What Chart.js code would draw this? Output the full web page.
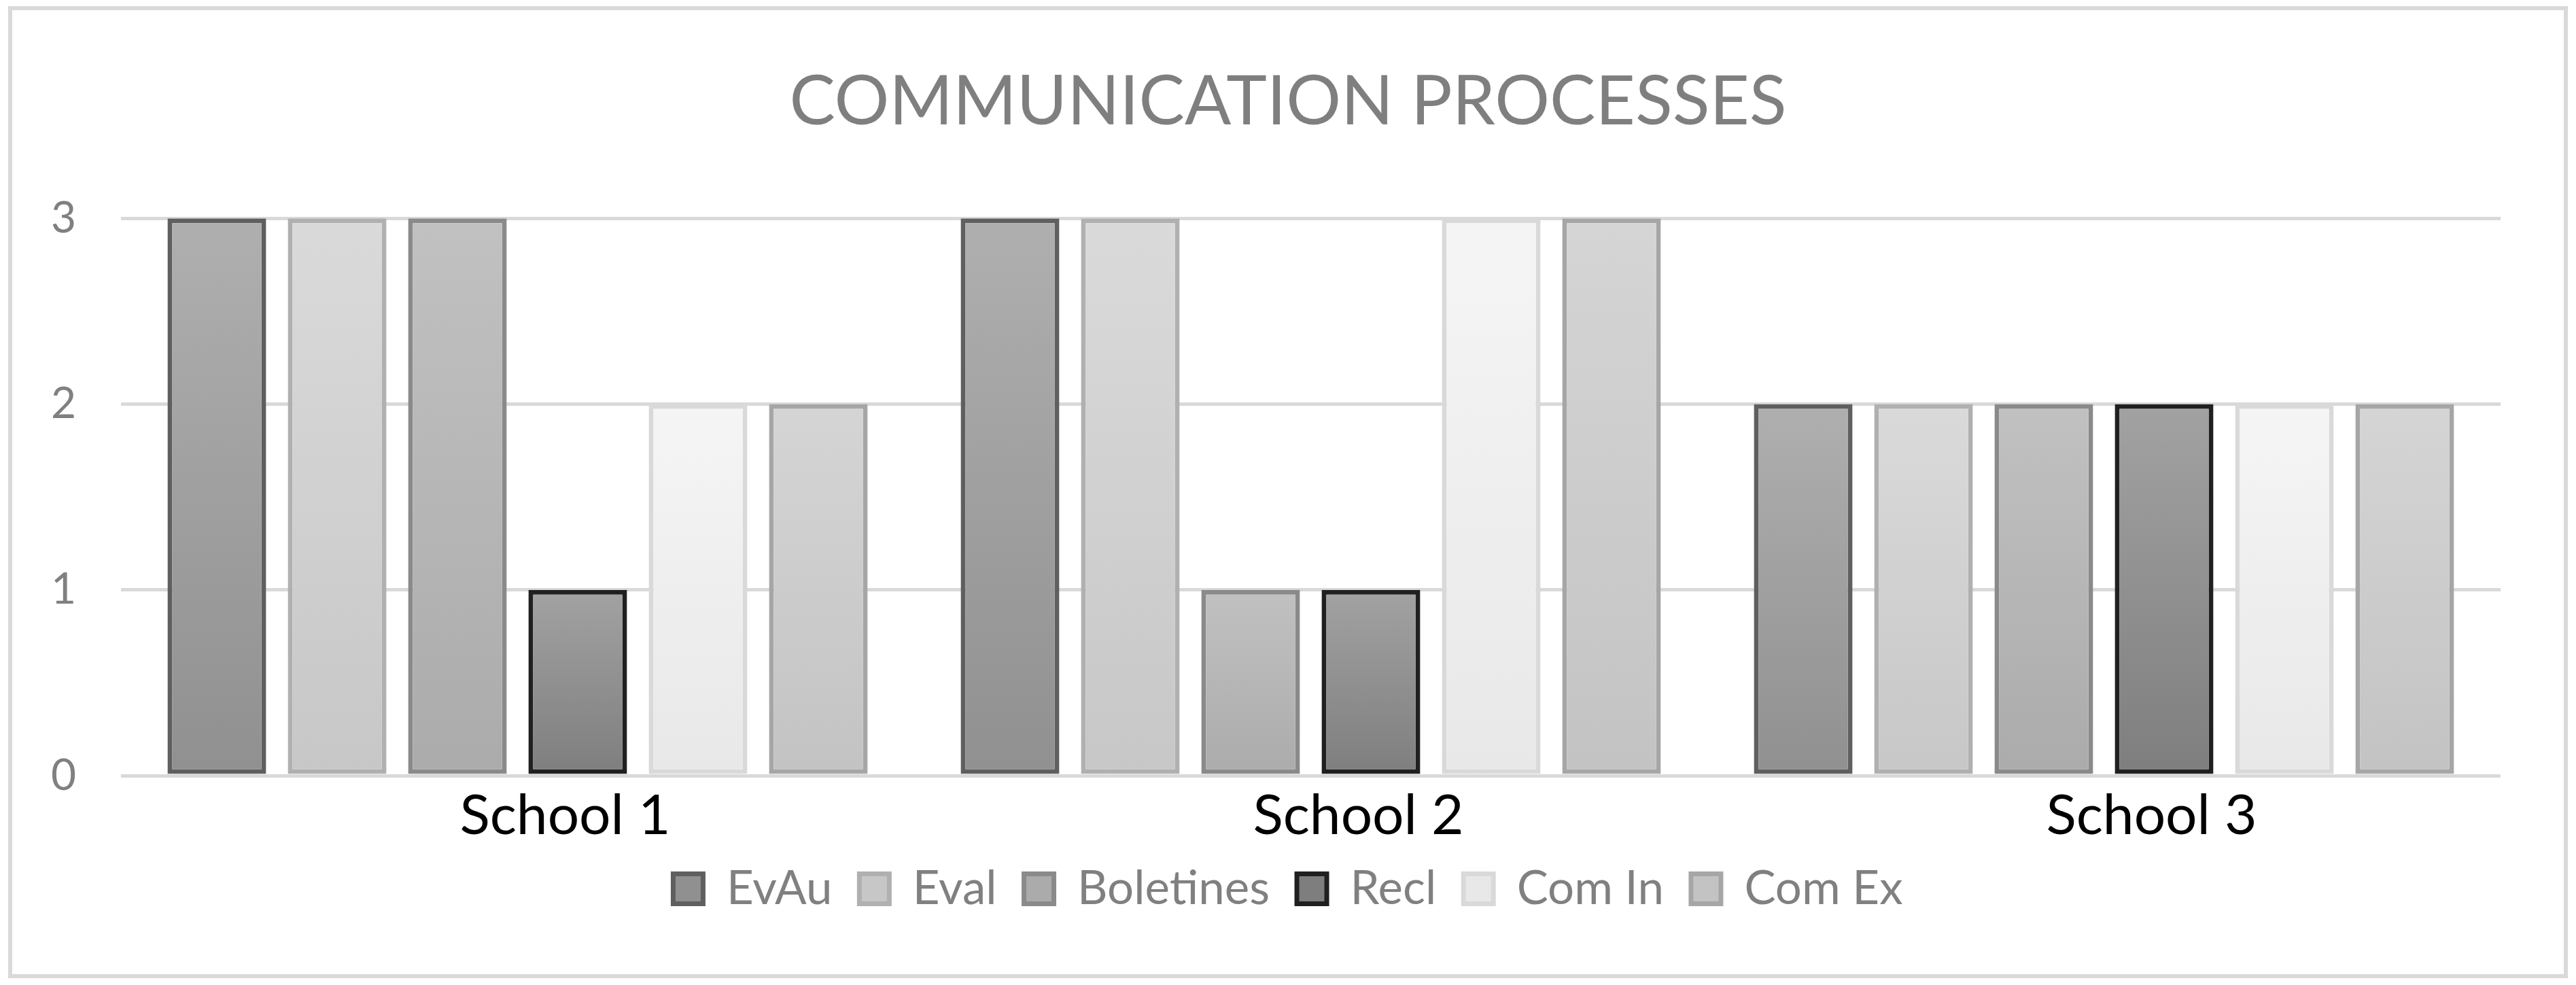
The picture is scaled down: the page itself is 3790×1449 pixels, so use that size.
<!DOCTYPE html>
<html>
<head>
<meta charset="utf-8">
<script src="https://cdn.jsdelivr.net/npm/chart.js@4"></script>
<style>
  html, body { margin: 0; padding: 0; background: #fff; }
  #wrap { width: 3790px; height: 1449px; }
</style>
</head>
<body>
<div id="wrap"><canvas id="commChart" width="3790" height="1449"></canvas></div>
<script>
/* ── Data ── */
const schools    = ['School 1', 'School 2', 'School 3'];
const evAu       = [3, 3, 2];
const evalVals   = [3, 3, 2];
const boletines  = [3, 1, 2];
const recl       = [1, 1, 2];
const comIn      = [2, 3, 2];
const comEx      = [2, 3, 2];
const yTicks     = [0, 1, 2, 3];

/* ── Per-bar vertical gradient (lighter top, darker bottom) ── */
function barFill(top, bottom) {
  return function (ctx) {
    const chart = ctx.chart;
    if (ctx.type !== 'data' || !chart.chartArea) return top;
    const y = chart.scales.y;
    const yTop = y.getPixelForValue(ctx.raw);
    const yBase = y.getPixelForValue(0);
    const g = chart.ctx.createLinearGradient(0, yTop, 0, yBase);
    g.addColorStop(0, top);
    g.addColorStop(1, bottom);
    return g;
  };
}

function series(label, data, top, bottom, border) {
  return {
    label: label,
    data: data,
    yAxisID: 'y',
    backgroundColor: barFill(top, bottom),
    borderColor: border,
    borderWidth: 7,
    borderSkipped: false,
    categoryPercentage: 0.91,
    barPercentage: 0.82
  };
}

/* ── Frame + white background ── */
const framePlugin = {
  id: 'frame',
  beforeDraw(chart) {
    const c = chart.ctx;
    c.save();
    c.fillStyle = '#ffffff';
    c.fillRect(0, 0, chart.width, chart.height);
    c.strokeStyle = '#d9d9d9';
    c.lineWidth = 6;
    c.strokeRect(15, 12, 3760, 1424);
    c.restore();
  }
};

const FONT = "Lato, 'Open Sans', sans-serif";

new Chart(document.getElementById('commChart'), {
  type: 'bar',
  data: {
    labels: schools,
    datasets: [
      series('EvAu',      evAu,      '#afafaf', '#909090', '#5f5f5f'),
      series('Eval',      evalVals,  '#dadada', '#c7c7c7', '#b0b0b0'),
      series('Boletines', boletines, '#c1c1c1', '#ababab', '#8a8a8a'),
      series('Recl',      recl,      '#a2a2a2', '#7e7e7e', '#202020'),
      series('Com In',    comIn,     '#f5f5f5', '#e8e8e8', '#d9d9d9'),
      series('Com Ex',    comEx,     '#d5d5d5', '#c3c3c3', '#a6a6a6')
    ]
  },
  options: {
    responsive: false,
    devicePixelRatio: 1,
    animation: false,
    layout: { padding: { left: 0, right: 0, top: 0, bottom: 97 } },
    plugins: {
      title: {
        display: true,
        text: 'COMMUNICATION PROCESSES',
        color: '#7f7f7f',
        font: { family: FONT, size: 101, weight: 'normal' },
        padding: { top: 90, bottom: 110 }
      },
      legend: {
        position: 'bottom',
        labels: {
          color: '#808080',
          font: { family: FONT, size: 69 },
          boxWidth: 44,
          boxHeight: 44,
          padding: 40
        }
      },
      tooltip: { enabled: false }
    },
    scales: {
      x: {
        grid: { display: false },
        border: { display: false },
        ticks: { color: '#000000', font: { family: FONT, size: 82 }, padding: 2, labelOffset: 70 },
        afterFit(scale) { scale.height = 92; }
      },
      y: {
        position: 'left',
        min: 0,
        max: 3,
        afterBuildTicks(scale) { scale.ticks = yTicks.map(v => ({ value: v })); },
        grid: { color: '#d9d9d9', lineWidth: 5, drawTicks: false },
        border: { display: false },
        ticks: { color: '#808080', font: { family: FONT, size: 64 }, padding: 66 },
        afterFit(scale) { scale.width = 178; }
      },
      // empty right-hand spacer so the plot ends where the reference's does
      ySpacer: {
        position: 'right',
        grid: { display: false },
        border: { display: false },
        ticks: { display: false },
        afterFit(scale) { scale.width = 111; }
      }
    }
  },
  plugins: [framePlugin]
});
</script>
</body>
</html>
